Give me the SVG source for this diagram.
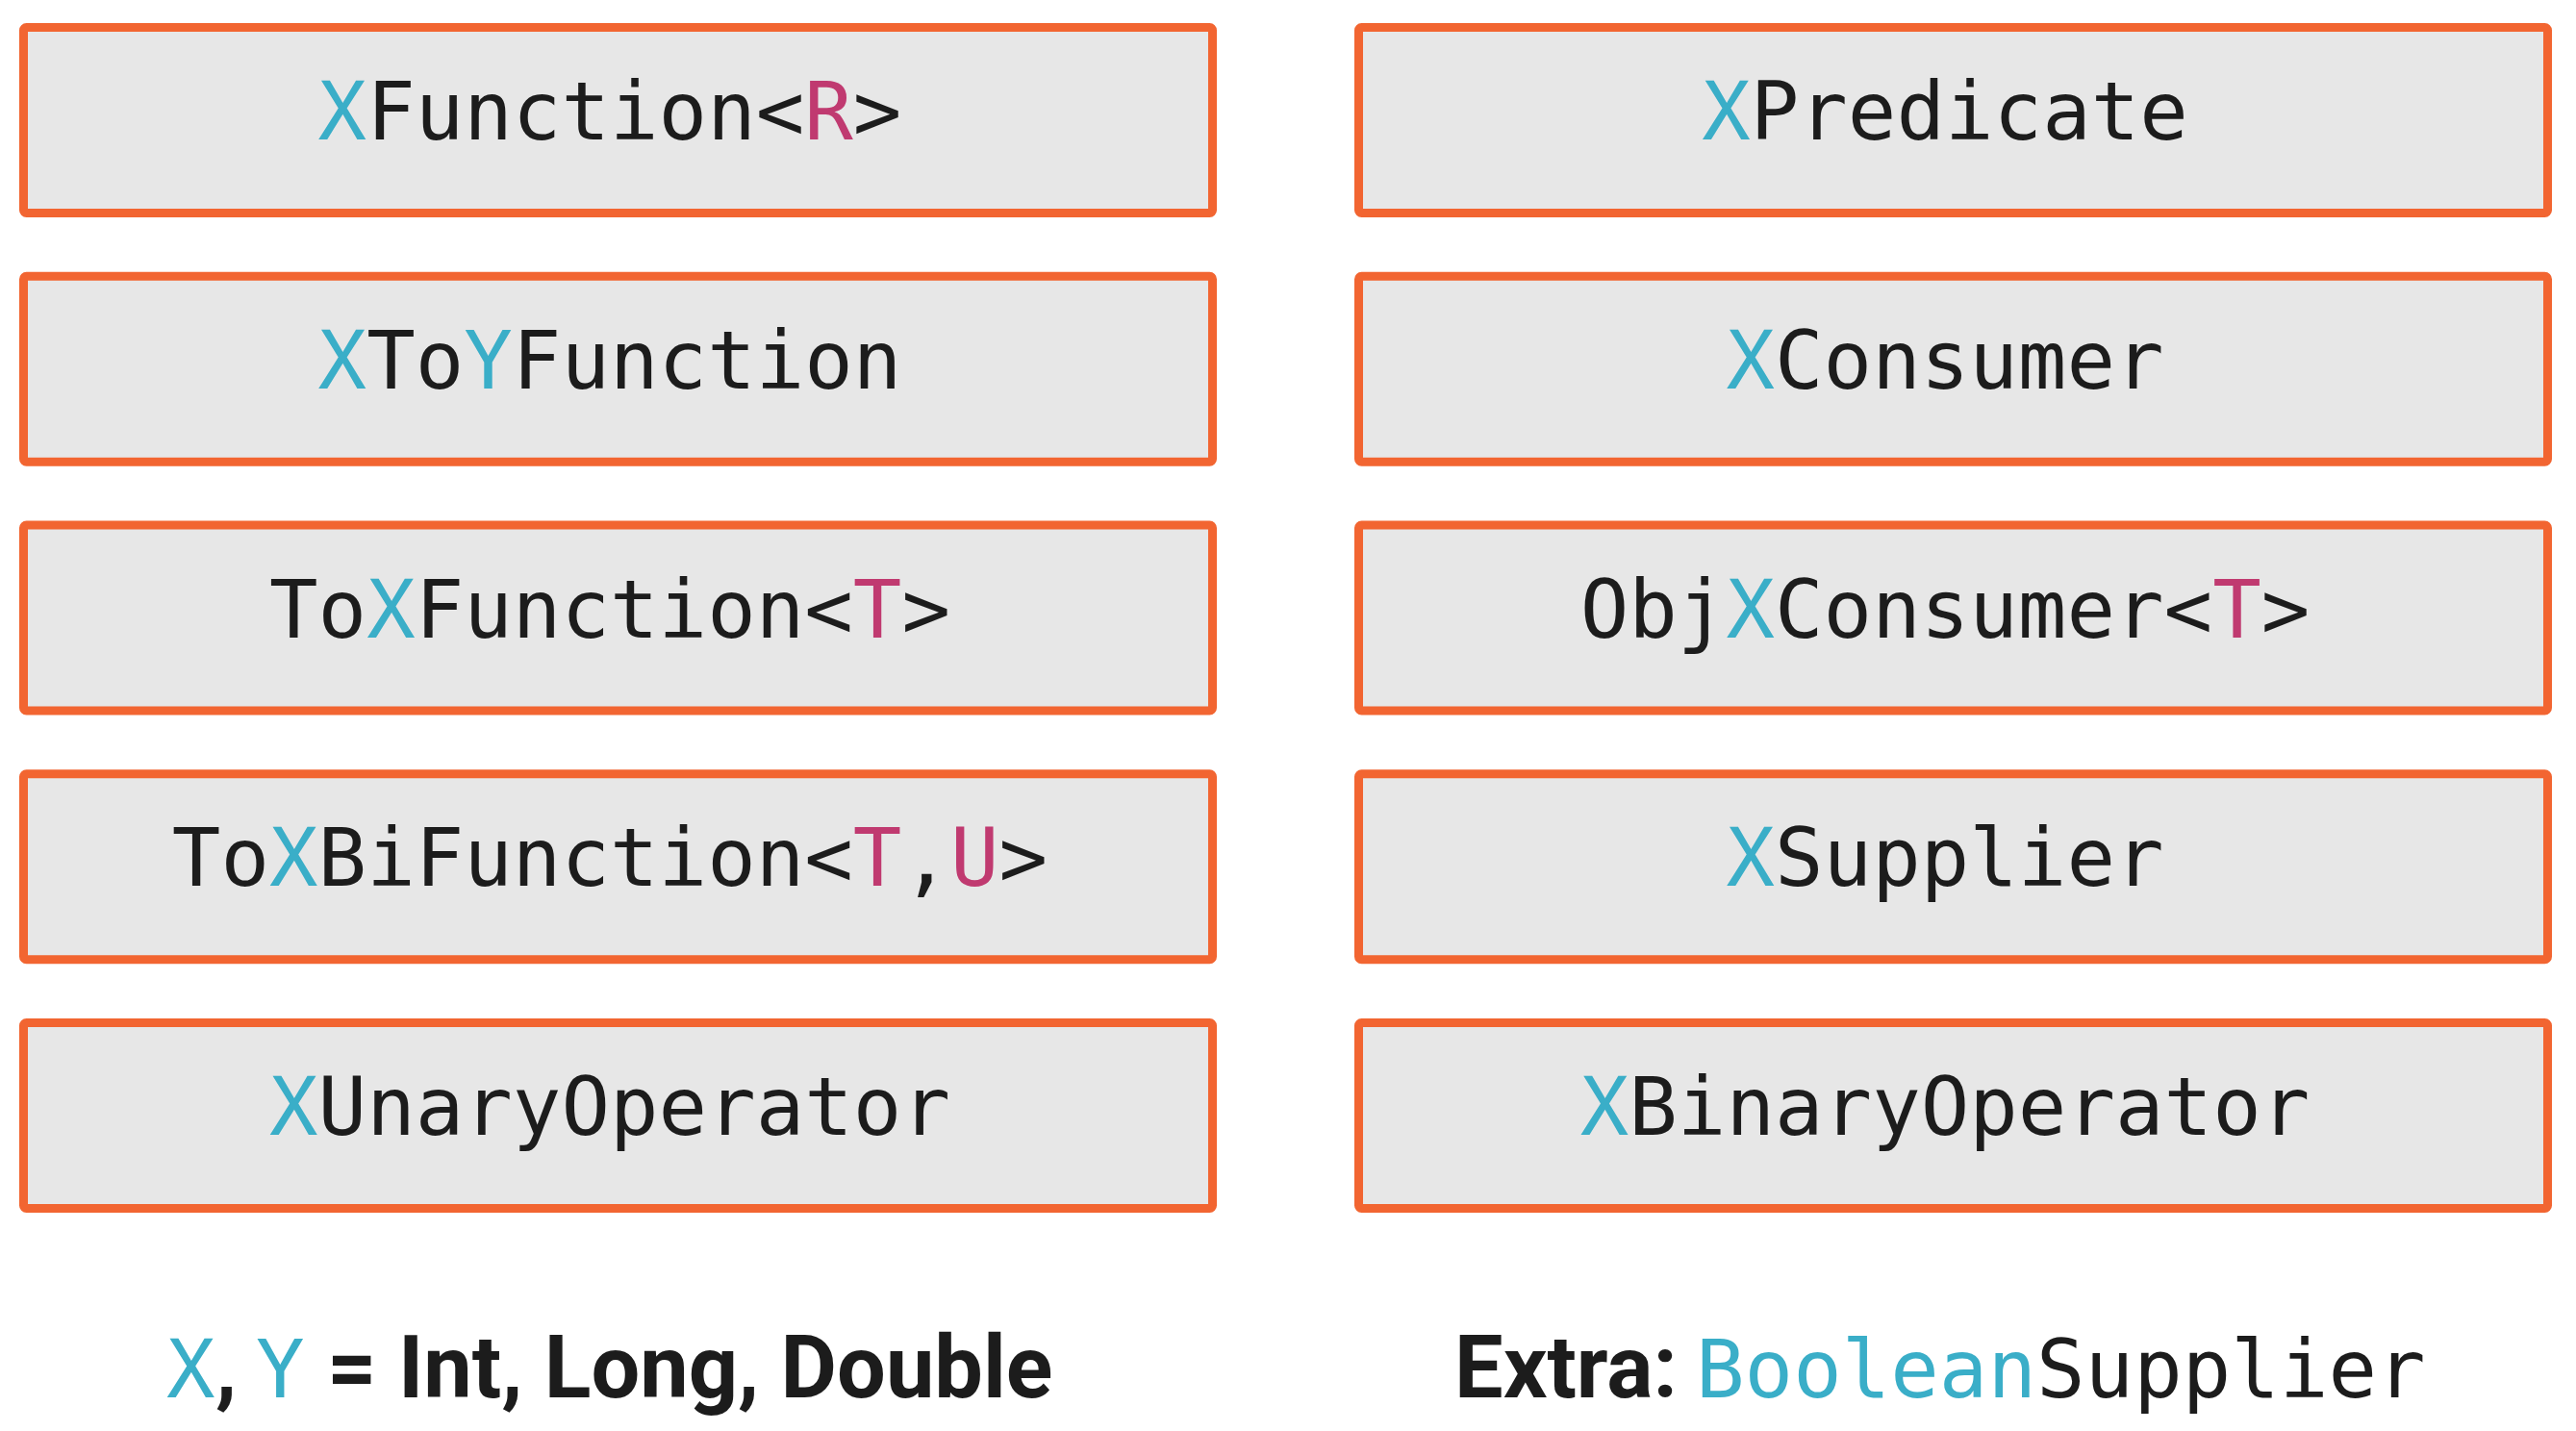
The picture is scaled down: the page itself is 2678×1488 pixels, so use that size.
<svg xmlns="http://www.w3.org/2000/svg" width="2678" height="1488" viewBox="0 0 2678 1488">
  <style>
    .box { fill: #e7e7e7; stroke: #f26531; stroke-width: 9; }
    .code { font-family: "DejaVu Sans Mono", "Liberation Mono", monospace; font-size: 84px; fill: #1c1c1c; text-anchor: middle; }
    .mono { font-family: "DejaVu Sans Mono", "Liberation Mono", monospace; font-size: 84px; fill: #1c1c1c; }
    .bold { font-family: Roboto, "Liberation Sans", sans-serif; font-weight: 700; font-size: 90px; fill: #1c1c1c; }
    .x { fill: #3aaec8; }
    .t { fill: #c03a70; }
  </style>
  <rect width="2678" height="1488" fill="#ffffff"/>

  <!-- left column -->
  <g id="xfunction">
    <rect class="box" x="24.5" y="28.5" width="1236" height="193" rx="3"/>
    <text class="code" x="634" y="145"><tspan class="x">X</tspan>Function&lt;<tspan class="t">R</tspan>&gt;</text>
  </g>
  <g id="xtoyfunction">
    <rect class="box" x="24.5" y="287.25" width="1236" height="193" rx="3"/>
    <text class="code" x="634" y="403.75"><tspan class="x">X</tspan>To<tspan class="x">Y</tspan>Function</text>
  </g>
  <g id="toxfunction">
    <rect class="box" x="24.5" y="546" width="1236" height="193" rx="3"/>
    <text class="code" x="634" y="662.5">To<tspan class="x">X</tspan>Function&lt;<tspan class="t">T</tspan>&gt;</text>
  </g>
  <g id="toxbifunction">
    <rect class="box" x="24.5" y="804.75" width="1236" height="193" rx="3"/>
    <text class="code" x="634" y="921.25">To<tspan class="x">X</tspan>BiFunction&lt;<tspan class="t">T</tspan>,<tspan class="t">U</tspan>&gt;</text>
  </g>
  <g id="xunaryoperator">
    <rect class="box" x="24.5" y="1063.5" width="1236" height="193" rx="3"/>
    <text class="code" x="634" y="1180"><tspan class="x">X</tspan>UnaryOperator</text>
  </g>

  <!-- right column -->
  <g id="xpredicate">
    <rect class="box" x="1412.5" y="28.5" width="1236" height="193" rx="3"/>
    <text class="code" x="2022" y="145"><tspan class="x">X</tspan>Predicate</text>
  </g>
  <g id="xconsumer">
    <rect class="box" x="1412.5" y="287.25" width="1236" height="193" rx="3"/>
    <text class="code" x="2022" y="403.75"><tspan class="x">X</tspan>Consumer</text>
  </g>
  <g id="objxconsumer">
    <rect class="box" x="1412.5" y="546" width="1236" height="193" rx="3"/>
    <text class="code" x="2022" y="662.5">Obj<tspan class="x">X</tspan>Consumer&lt;<tspan class="t">T</tspan>&gt;</text>
  </g>
  <g id="xsupplier">
    <rect class="box" x="1412.5" y="804.75" width="1236" height="193" rx="3"/>
    <text class="code" x="2022" y="921.25"><tspan class="x">X</tspan>Supplier</text>
  </g>
  <g id="xbinaryoperator">
    <rect class="box" x="1412.5" y="1063.5" width="1236" height="193" rx="3"/>
    <text class="code" x="2022" y="1180"><tspan class="x">X</tspan>BinaryOperator</text>
  </g>

  <!-- no connectors in this chart -->
  <g id="connectors"/>

  <!-- legend lines -->
  <g id="legend-types">
    <text class="mono x" x="173" y="1453">X</text>
    <text class="bold" x="224" y="1453">,</text>
    <text class="mono x" x="266" y="1453">Y</text>
    <text class="bold" x="340" y="1453">= Int, Long, Double</text>
  </g>
  <g id="legend-extra">
    <text class="bold" x="1512" y="1453">Extra:</text>
    <text class="mono" x="1763" y="1453"><tspan class="x">Boolean</tspan>Supplier</text>
  </g>
</svg>
